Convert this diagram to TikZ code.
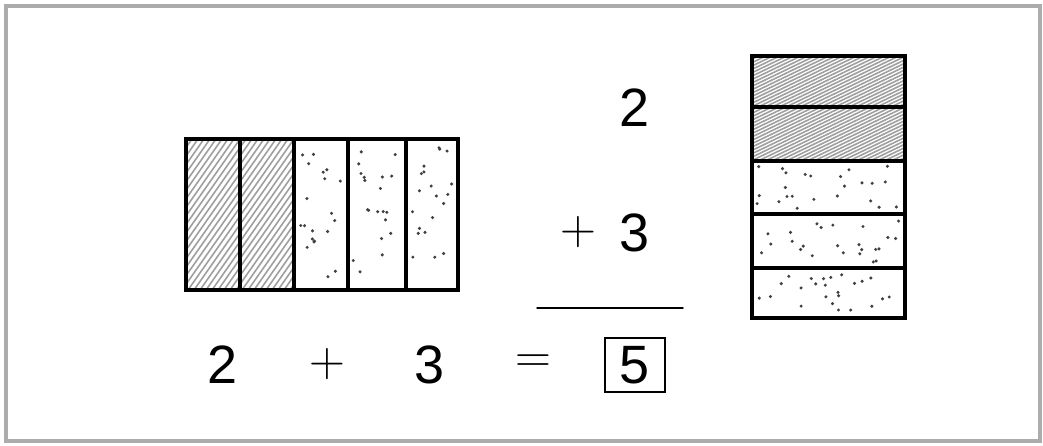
\documentclass[tikz,border=0pt]{standalone}
\usepackage{fontspec}
\setmainfont{Liberation Sans}
\usetikzlibrary{calc}

\begin{document}
\begin{tikzpicture}[x=0.5pt, y=-0.5pt, line cap=round,
  frame/.style={draw=gray!65, line width=1.6pt},
  strip/.style={draw=black, line width=2pt},
  hatch/.style={draw=gray!75, line width=0.8pt},
  speck/.style={fill=black!75},
  digit/.style={font=\fontsize{27}{30}\selectfont, inner sep=0pt},
  sign/.style={font=\fontsize{24}{28}\selectfont, inner sep=0pt},
]
  \useasboundingbox (0,0) rectangle (1043,445);
  \draw[frame] (6,6) rectangle (1040,441);
  \pgfmathsetseed{11}
  % five columns, two hatched and three dotted
  \foreach \xa/\xb in {186/240,240/294}{
    \begin{scope}
      \clip (\xa,139) rectangle (\xb,290);
      \foreach \t in {-112,-106,...,60} \draw[hatch] (\xa+\t,290) -- ++(106,-151);
    \end{scope}
  }
  \foreach \xa/\xb in {294/348,348/406,406/458}{
    \foreach \k in {1,...,20}{
      \pgfmathsetmacro\px{\xa+5+rnd*(\xb-\xa-10)}
      \pgfmathsetmacro\py{145+rnd*139}
      \fill[speck] (\px,\py) circle (0.85pt);
    }
  }
  \coordinate (L1) at (186,139);
  \coordinate (L2) at (458,290);
  \draw[strip] (L1) rectangle (L2);
  \foreach \x in {240,294,348,406} \draw[strip] (\x,139) -- (\x,290);
  % five rows, two hatched and three dotted
  \foreach \ya/\yb in {56/107,107/161}{
    \begin{scope}
      \clip (752,\ya) rectangle (905,\yb);
      \foreach \t in {-120,-113,...,160} \draw[hatch] (752+\t,\yb) -- ++(112,-54);
    \end{scope}
  }
  \foreach \ya/\yb in {161/214,214/268,268/318}{
    \foreach \k in {1,...,24}{
      \pgfmathsetmacro\px{757+rnd*143}
      \pgfmathsetmacro\py{\ya+5+rnd*(\yb-\ya-10)}
      \fill[speck] (\px,\py) circle (0.85pt);
    }
  }
  \coordinate (R1) at (752,56);
  \coordinate (R2) at (905,318);
  \draw[strip] (R1) rectangle (R2);
  \foreach \y in {107,161,214,268} \draw[strip] (752,\y) -- (905,\y);
  % column sum
  \node[digit] (top) at (635,108) {2};
  \node[sign] (plus) at (578,232) {$+$};
  \node[digit] (mid) at (635,233) {3};
  \coordinate (rulea) at (537,308);
  \coordinate (ruleb) at (683,308);
  \draw[line width=0.7pt] (rulea) -- (ruleb);
  % row sum
  \node[digit] (a) at (223,365) {2};
  \node[sign] (p) at (327,364) {$+$};
  \node[digit] (b) at (430,365) {3};
  \node[sign] (eq) at (533,364) {$=$};
  \node[digit, draw, line width=0.7pt, minimum width=30pt, minimum height=27pt] (res) at (635,365) {5};
\end{tikzpicture}
\end{document}
